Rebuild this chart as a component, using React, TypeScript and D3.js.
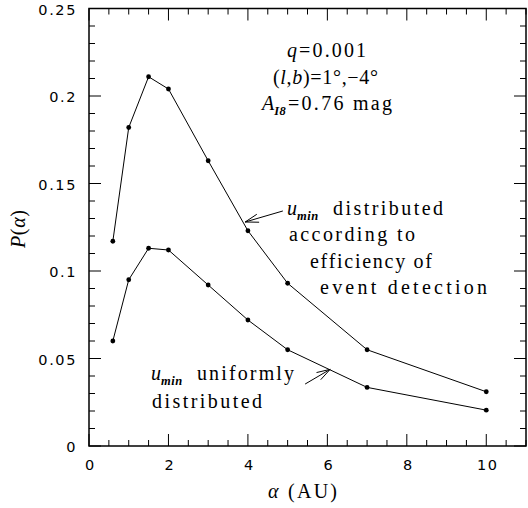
import React from "react";
import * as d3 from "d3";

const aValues = [0.6, 1, 1.5, 2, 3, 4, 5, 7, 10];
const pEfficiency = [0.117, 0.182, 0.211, 0.204, 0.163, 0.123, 0.093, 0.055, 0.031];
const pUniform = [0.06, 0.095, 0.113, 0.112, 0.092, 0.072, 0.055, 0.0335, 0.0205];
const xMajorTicks = [0, 2, 4, 6, 8, 10];
const yMajorTicks = [0, 0.05, 0.1, 0.15, 0.2, 0.25];
const yTickLabels = ["0", "0.05", "0.1", "0.15", "0.2", "0.25"];

const W = 528;
const H = 508;
const serif = "'Liberation Serif', 'Times New Roman', serif";
const sans = "'DejaVu Sans', sans-serif";

export default function App() {
  const x = d3.scaleLinear().domain([0, 11]).range([89, 526]);
  const y = d3.scaleLinear().domain([0, 0.25]).range([446, 8.5]);
  const line = d3
    .line<[number, number]>()
    .x((d) => x(d[0]))
    .y((d) => y(d[1]));

  const effPts: [number, number][] = aValues.map((a, i) => [a, pEfficiency[i]]);
  const uniPts: [number, number][] = aValues.map((a, i) => [a, pUniform[i]]);

  const xMinor = d3.range(0, 11.001, 0.5).filter((v) => !xMajorTicks.includes(v));
  const yMinor = d3.range(0, 0.2501, 0.01).filter(
    (v) => !yMajorTicks.some((t) => Math.abs(t - v) < 1e-6)
  );

  const [x0, x1] = x.range();
  const [y0, y1] = y.range();
  const majLen = 12;
  const minLen = 6;

  const arrow = (tail: [number, number], tip: [number, number]) => {
    const tx = x(tip[0]);
    const ty = y(tip[1]);
    const sx = x(tail[0]);
    const sy = y(tail[1]);
    const ang = Math.atan2(sy - ty, sx - tx);
    const len = 14;
    const spread = 0.3;
    const b1 = [tx + len * Math.cos(ang + spread), ty + len * Math.sin(ang + spread)];
    const b2 = [tx + len * Math.cos(ang - spread), ty + len * Math.sin(ang - spread)];
    return (
      <g stroke="#000" strokeWidth={1} fill="none">
        <line x1={sx} y1={sy} x2={tx} y2={ty} />
        <polyline points={`${b1[0]},${b1[1]} ${tx},${ty} ${b2[0]},${b2[1]}`} />
      </g>
    );
  };

  const txt = { fontFamily: serif, fontSize: 20, fill: "#000" } as const;
  const sub = { fontStyle: "italic", fontWeight: "bold", fontSize: 12.5, letterSpacing: 0.5 } as const;

  const T = (xp: number, yp: number, len: number, s: React.ReactNode) => (
    <text {...txt} x={xp} y={yp} textLength={len} lengthAdjust="spacing">
      {s}
    </text>
  );

  return (
    <svg
      width={W}
      height={H}
      style={{ position: "absolute", left: 0, top: 0, background: "#fff" }}
    >
      <rect x={0} y={0} width={W} height={H} fill="#fff" />
      {/* frame */}
      <rect x={x0} y={y1} width={x1 - x0} height={y0 - y1} fill="none" stroke="#000" strokeWidth={1.5} />
      {/* ticks */}
      <g stroke="#000" strokeWidth={1}>
        {xMajorTicks.map((t) => (
          <g key={"xm" + t}>
            <line x1={x(t)} x2={x(t)} y1={y0} y2={y0 - majLen} />
            <line x1={x(t)} x2={x(t)} y1={y1} y2={y1 + majLen} />
          </g>
        ))}
        {xMinor.map((t) => (
          <g key={"xn" + t}>
            <line x1={x(t)} x2={x(t)} y1={y0} y2={y0 - minLen} />
            <line x1={x(t)} x2={x(t)} y1={y1} y2={y1 + minLen} />
          </g>
        ))}
        {yMajorTicks.map((t) => (
          <g key={"ym" + t}>
            <line x1={x0} x2={x0 + majLen} y1={y(t)} y2={y(t)} />
            <line x1={x1} x2={x1 - majLen} y1={y(t)} y2={y(t)} />
          </g>
        ))}
        {yMinor.map((t) => (
          <g key={"yn" + t}>
            <line x1={x0} x2={x0 + minLen} y1={y(t)} y2={y(t)} />
            <line x1={x1} x2={x1 - minLen} y1={y(t)} y2={y(t)} />
          </g>
        ))}
      </g>
      {/* tick labels */}
      <g fontFamily={sans} fontSize={14.5} letterSpacing={1.6} fill="#000">
        {xMajorTicks.map((t) => (
          <text key={"xl" + t} x={x(t) + 1.5} y={470} textAnchor="middle">
            {t}
          </text>
        ))}
        {yMajorTicks.map((t, i) => (
          <text key={"yl" + t} x={77} y={y(t) + 6} textAnchor="end">
            {yTickLabels[i]}
          </text>
        ))}
      </g>
      {/* axis titles */}
      <text {...txt} x={268} y={498} textLength={69} lengthAdjust="spacing">
        <tspan fontStyle="italic">α</tspan> (AU)
      </text>
      <text {...txt} transform="translate(25,248) rotate(-90)" textLength={38} lengthAdjust="spacing">
        <tspan fontStyle="italic">P</tspan>(<tspan fontStyle="italic">α</tspan>)
      </text>
      {/* curves */}
      <path d={line(effPts) ?? ""} fill="none" stroke="#000" strokeWidth={1} />
      <path d={line(uniPts) ?? ""} fill="none" stroke="#000" strokeWidth={1} />
      {effPts.concat(uniPts).map((p, i) => (
        <circle key={"pt" + i} cx={x(p[0])} cy={y(p[1])} r={2.4} fill="#000" />
      ))}
      {/* parameters */}
      {T(287, 57, 79, <><tspan fontStyle="italic">q</tspan>=0.001</>)}
      {T(273, 84, 105, <>(<tspan fontStyle="italic">l</tspan>,<tspan fontStyle="italic">b</tspan>)=1°,−4°</>)}
      <text {...txt} x={262} y={110}>
        <tspan fontStyle="italic">A</tspan>
        <tspan {...sub} dy={5}>I8</tspan>
      </text>
      {T(288, 110, 104, "=0.76 mag")}
      {/* annotations */}
      <text {...txt} x={287} y={215}>
        <tspan fontStyle="italic">u</tspan>
        <tspan {...sub} dy={5}>min</tspan>
      </text>
      {T(333, 215, 110, "distributed")}
      {T(289, 241, 126, "according to")}
      {T(310, 268, 122, "efficiency of")}
      {T(320, 294, 167, "event detection")}
      <text {...txt} x={151} y={380}>
        <tspan fontStyle="italic">u</tspan>
        <tspan {...sub} dy={5}>min</tspan>
      </text>
      {T(197, 380, 97, "uniformly")}
      {T(152, 408, 110, "distributed")}
      {arrow([4.88, 0.1343], [3.93, 0.128])}
      {arrow([5.44, 0.0354], [6.07, 0.0438])}
    </svg>
  );
}
